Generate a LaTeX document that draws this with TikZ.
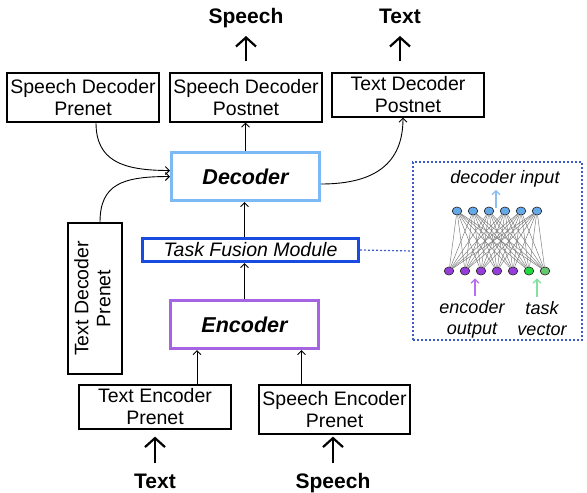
\documentclass[tikz,border=0pt]{standalone}
\usepackage{fontspec}
\setmainfont{Liberation Sans}
\usepackage{graphicx}
\usetikzlibrary{arrows.meta, shapes.geometric}

\definecolor{decblue}{RGB}{125,185,245}
\definecolor{fusionblue}{RGB}{25,75,225}
\definecolor{encpurple}{RGB}{165,100,225}
\definecolor{insetblue}{RGB}{60,90,200}
\definecolor{unitblue}{RGB}{100,170,235}
\definecolor{unitpurple}{RGB}{150,60,220}
\definecolor{unitgreen}{RGB}{30,220,60}
\definecolor{unitlime}{RGB}{100,200,110}
\definecolor{arrblue}{RGB}{140,190,240}
\definecolor{arrpurple}{RGB}{180,110,240}
\definecolor{arrgreen}{RGB}{130,225,160}

\begin{document}
\begin{tikzpicture}[
    x=1pt, y=-1pt,
    box/.style={draw=black, line width=1.2pt, align=center, inner sep=0pt, font=\fontsize{19.5}{22}\selectfont},
    core/.style={draw, line width=3pt, inner sep=0pt, font=\fontsize{21.5}{24}\selectfont\bfseries\itshape},
    io/.style={anchor=base, inner sep=0pt, font=\fontsize{21}{24}\selectfont\bfseries},
    small/.style={inner sep=0pt, align=center, font=\fontsize{18}{21}\selectfont\itshape},
    unit/.style={ellipse, draw=black!80, line width=0.7pt, minimum width=9.5pt, minimum height=8pt, inner sep=0pt},
    link/.style={gray, line width=0.5pt},
    arrow/.style={-{Straight Barb[length=4pt, width=8pt]}, line width=0.9pt},
    bigarrow/.style={-{Straight Barb[length=9pt, width=20pt]}, line width=2.2pt}
]
    \useasboundingbox (0,0) rectangle (587,493);

    % --- Decoder side ---
    \node[box, minimum width=152pt, minimum height=49pt] (sdpre) at (83,97.5) {Speech Decoder\\Prenet};
    \node[box, minimum width=152pt, minimum height=49pt] (sdpost) at (246,97.5) {Speech Decoder\\Postnet};
    \node[box, minimum width=152pt, minimum height=44pt] (tdpost) at (408,95) {Text Decoder\\Postnet};
    \node[core, draw=decblue, minimum width=148pt, minimum height=48pt] (dec) at (245.5,176.5) {Decoder};
    \node[box, minimum width=54pt, minimum height=151pt] (tdpre) at (95,298.5)
        {\rotatebox{90}{\begin{tabular}{@{}c@{}}Text Decoder\\Prenet\end{tabular}}};

    % --- Fusion and encoder ---
    \node[core, draw=fusionblue, font=\fontsize{19.5}{22}\selectfont\itshape, minimum width=216pt, minimum height=23pt] (tfm) at (250.5,250) {Task Fusion Module};
    \node[core, draw=encpurple, minimum width=148pt, minimum height=48pt] (enc) at (244.5,324.5) {Encoder};
    \node[box, minimum width=152pt, minimum height=44pt] (tep) at (155,407) {Text Encoder\\Prenet};
    \node[box, minimum width=151pt, minimum height=49pt] (sep) at (334.5,409.5) {Speech Encoder\\Prenet};

    % --- Inputs and outputs ---
    \node[io] (outspeech) at (246,23) {Speech};
    \node[io] (outtext) at (400,23) {Text};
    \node[io] (intext) at (155,488) {Text};
    \node[io] (inspeech) at (333,488) {Speech};

    \draw[bigarrow, shorten <=11pt, shorten >=13pt] (sdpost.north) -- (outspeech.base);
    \draw[bigarrow, shorten <=11pt, shorten >=13pt] ([xshift=-8pt]tdpost.north) -- (outtext.base);
    \draw[bigarrow, shorten <=10pt, shorten >=7pt] (intext.north) -- (tep.south);
    \draw[bigarrow, shorten <=10pt, shorten >=2pt] (inspeech.north) -- (inspeech.north |- sep.south);

    % --- Main flow ---
    \draw[arrow] ([xshift=42pt]tep.north) -- ([xshift=42pt]tep.north |- enc.south);
    \draw[arrow] ([xshift=-33pt]sep.north) -- ([xshift=-33pt]sep.north |- enc.south);
    \draw[arrow] (enc.north) -- (enc.north |- tfm.south);
    \draw[arrow] (tfm.north -| enc.north) -- (enc.north |- dec.south);
    \draw[arrow] (dec.north) -- (dec.north |- sdpost.south);
    \draw[arrow] ([xshift=13pt]sdpre.south) .. controls +(0,38) and +(-48,0) .. ([yshift=6pt]dec.west);
    \draw[arrow] ([xshift=5pt]tdpre.north) .. controls +(0,-38) and +(-48,0) .. (dec.west);
    \draw[arrow] ([yshift=-7.5pt]dec.east) .. controls +(55,0) and +(0,45) .. ([xshift=-5pt]tdpost.south);

    % --- Task fusion inset ---
    \node[draw=insetblue, line width=1.2pt, dash pattern=on 2pt off 2pt, minimum width=169pt, minimum height=178pt] (inset) at (497.5,251) {};
    \draw[insetblue, line width=1.2pt, dash pattern=on 2pt off 2pt] (tfm.east) -- (inset.west);

    \foreach \i in {1,...,6} {
        \node[unit, fill=unitblue] (D\i) at (441+16*\i, 211) {};
    }
    \foreach \j/\c in {1/unitpurple, 2/unitpurple, 3/unitpurple, 4/unitpurple, 5/unitpurple, 6/unitgreen, 7/unitlime} {
        \node[unit, fill=\c] (E\j) at (433+16*\j, 271) {};
    }
    \foreach \i in {1,...,6} {
        \foreach \j in {1,...,7} {
            \draw[link] (D\i) -- (E\j);
        }
    }

    \node[small, anchor=base] (decin) at (505,183) {decoder input};
    \node[small] (encout) at (472,319) {encoder\\output};
    \node[small] (taskvec) at (542,319) {task\\vector};

    \coordinate (decarr) at (496,208);
    \coordinate (encarr) at (475,296);
    \coordinate (taskarr) at (537,297);
    \draw[arrow, line width=1.2pt, arrblue, shorten >=3pt] (decarr) -- (decarr |- decin.south);
    \draw[arrow, line width=1.2pt, arrpurple, shorten >=3pt] (encarr) -- (encarr |- E3.south);
    \draw[arrow, line width=1.2pt, arrgreen, shorten >=3pt] (taskarr) -- (taskarr |- E7.south);
\end{tikzpicture}
\end{document}
